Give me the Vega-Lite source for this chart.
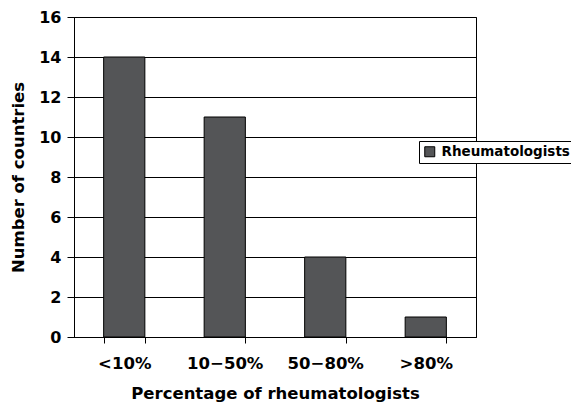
{
  "$schema": "https://vega.github.io/schema/vega-lite/v6.json",
  "width": 402,
  "height": 320,
  "autosize": "none",
  "padding": {"left": 74, "top": 17, "right": 95, "bottom": 67},
  "background": "white",
  "config": {
    "view": {"stroke": "black", "strokeWidth": 1},
    "font": "DejaVu Sans"
  },
  "data": {
    "values": [
      {"category": "<10%", "countries": 14, "series": "Rheumatologists"},
      {"category": "10−50%", "countries": 11, "series": "Rheumatologists"},
      {"category": "50−80%", "countries": 4, "series": "Rheumatologists"},
      {"category": ">80%", "countries": 1, "series": "Rheumatologists"}
    ]
  },
  "mark": {"type": "bar", "stroke": "black", "strokeWidth": 1, "opacity": 1},
  "encoding": {
    "x": {
      "field": "category",
      "type": "nominal",
      "sort": null,
      "scale": {"paddingInner": 0.59, "paddingOuter": 0.295},
      "axis": {
        "title": "Percentage of rheumatologists",
        "labelAngle": 0,
        "tickBand": "extent",
        "domainColor": "black",
        "tickColor": "black",
        "tickSize": 6,
        "labelFont": "DejaVu Sans",
        "labelFontSize": 16.5,
        "labelFontWeight": "bold",
        "labelColor": "black",
        "labelPadding": 12,
        "titleFont": "DejaVu Sans",
        "titleFontSize": 16.5,
        "titleFontWeight": "bold",
        "titleColor": "black",
        "titlePadding": 14
      }
    },
    "y": {
      "field": "countries",
      "type": "quantitative",
      "scale": {"domain": [0, 16], "nice": false},
      "axis": {
        "title": "Number of countries",
        "values": [0, 2, 4, 6, 8, 10, 12, 14, 16],
        "grid": true,
        "gridColor": "black",
        "gridOpacity": 1,
        "gridWidth": 1,
        "domainColor": "black",
        "tickColor": "black",
        "tickSize": 7,
        "labelFont": "DejaVu Sans",
        "labelFontSize": 16,
        "labelFontWeight": "bold",
        "labelColor": "black",
        "labelPadding": 6,
        "titleFont": "DejaVu Sans",
        "titleFontSize": 16.5,
        "titleFontWeight": "bold",
        "titleColor": "black",
        "titlePadding": 12
      }
    },
    "color": {
      "field": "series",
      "type": "nominal",
      "scale": {"range": ["#545557"]},
      "legend": {
        "title": null,
        "orient": "none",
        "legendX": 345,
        "legendY": 124,
        "fillColor": "white",
        "strokeColor": "black",
        "padding": 4,
        "symbolType": "square",
        "symbolSize": 100,
        "symbolStrokeColor": "black",
        "symbolStrokeWidth": 1,
        "symbolOpacity": 1,
        "labelFont": "DejaVu Sans",
        "labelFontSize": 13.5,
        "labelFontWeight": "bold",
        "labelColor": "black",
        "labelOffset": 5
      }
    }
  }
}
